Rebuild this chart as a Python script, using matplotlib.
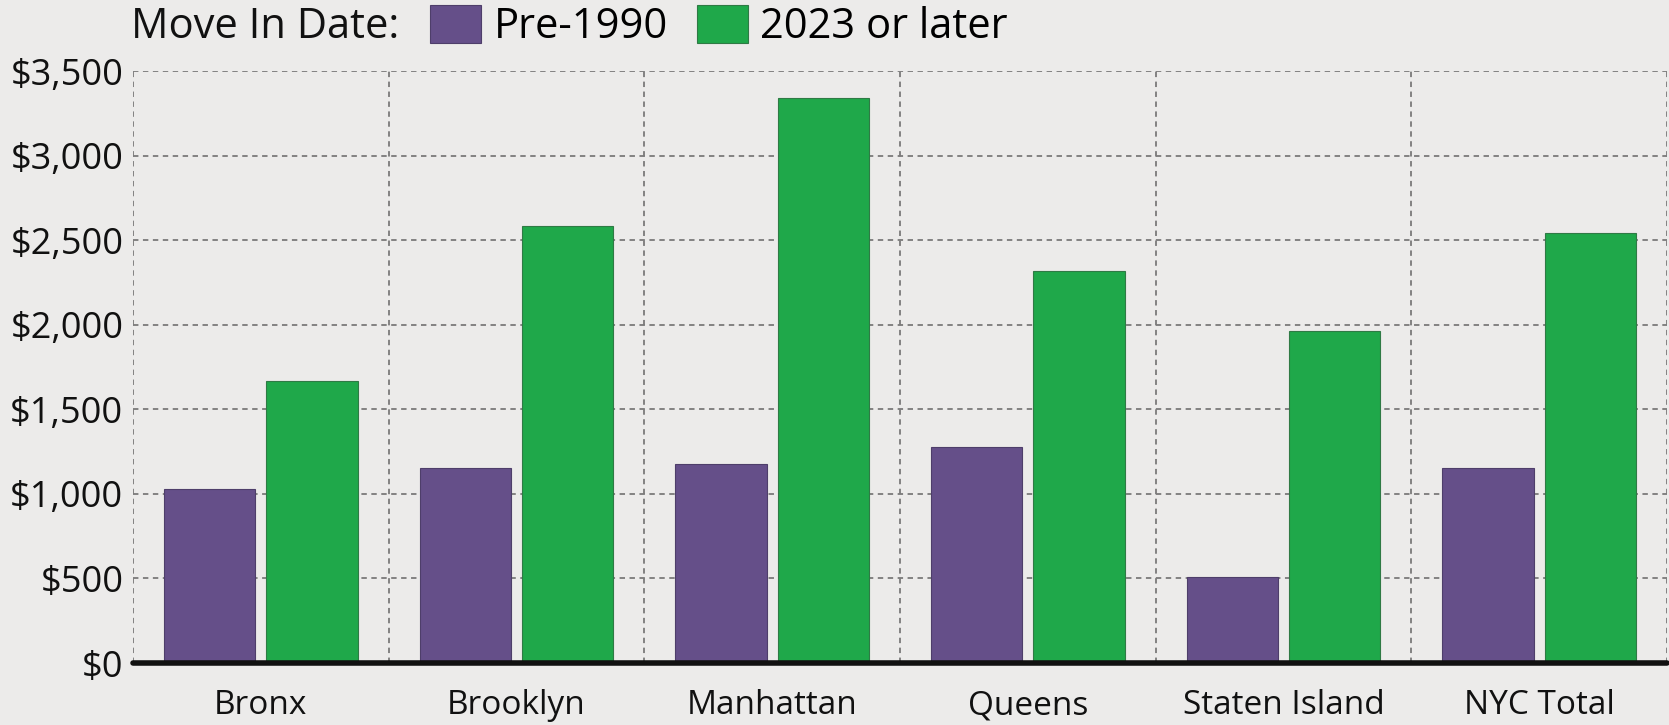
import numpy as np
import matplotlib.pyplot as plt
from matplotlib.patches import Patch
from matplotlib.ticker import FuncFormatter, MultipleLocator

plt.rcParams['font.family'] = ['Open Sans', 'DejaVu Sans']

# datos
boroughs = ['Bronx', 'Brooklyn', 'Manhattan', 'Queens', 'Staten Island', 'NYC Total']
pre_1990 = [1030, 1155, 1175, 1275, 510, 1155]
post_2023 = [1670, 2585, 3340, 2315, 1965, 2540]
series_labels = ['Pre-1990', '2023 or later']
legend_title = 'Move In Date:'

purple = '#654f89'
green = '#1fa84a'
bg = '#ecebea'

fig = plt.figure(figsize=(16.69, 7.25), dpi=100, facecolor=bg)
ax = fig.add_axes([0.0797, 0.0855, 0.9191, 0.8165])
ax.set_facecolor(bg)

x = np.arange(len(boroughs))
w = 0.358
ax.bar(x - 0.2, pre_1990, w, color=purple, edgecolor='#4e3e6a', linewidth=0.8, zorder=3)
ax.bar(x + 0.2, post_2023, w, color=green, edgecolor='#2f7a45', linewidth=0.8, zorder=3)

ax.set_xlim(-0.5, len(boroughs) - 0.5)
ax.set_ylim(0, 3500)

# rejilla punteada en los bordes de cada categoria
ax.set_xticks(x)
ax.set_xticklabels(boroughs, fontsize=24, color='#111111')
ax.set_xticks(np.arange(-0.5, len(boroughs)), minor=True)
ax.yaxis.set_major_locator(MultipleLocator(500))
ax.yaxis.set_major_formatter(FuncFormatter(lambda v, p: f'${v:,.0f}'))
ax.tick_params(axis='y', labelsize=26, length=0, pad=7, colors='#111111')
ax.tick_params(axis='x', which='both', length=0, pad=19)
ax.grid(True, axis='y', which='major', color='#7a7a7a', linestyle=(0, (3, 2.5)), linewidth=1.3, zorder=1)
ax.grid(True, axis='x', which='minor', color='#7a7a7a', linestyle=(0, (3, 2.5)), linewidth=1.3, zorder=1)
ax.grid(False, axis='x', which='major')

for s in ['top', 'right', 'left']:
    ax.spines[s].set_visible(False)
ax.spines['bottom'].set_color('#111111')
ax.spines['bottom'].set_linewidth(4)
ax.spines['bottom'].set_capstyle('round')
ax.spines['bottom'].set_zorder(4)

# leyenda arriba
fig.text(0.0785, 0.963, legend_title, fontsize=30, va='center', ha='left', color='#111111')
handles = [Patch(facecolor=purple, edgecolor='#4e3e6a', linewidth=0.8),
           Patch(facecolor=green, edgecolor='#2f7a45', linewidth=0.8)]
fig.legend(handles, series_labels, ncol=2, loc='center left', bbox_to_anchor=(0.2577, 0.963),
           frameon=False, fontsize=30, handlelength=1.22, handleheight=1.0,
           handletextpad=0.3, columnspacing=0.7, borderpad=0, borderaxespad=0)

fig.savefig('out.png', dpi=100, facecolor=bg)
